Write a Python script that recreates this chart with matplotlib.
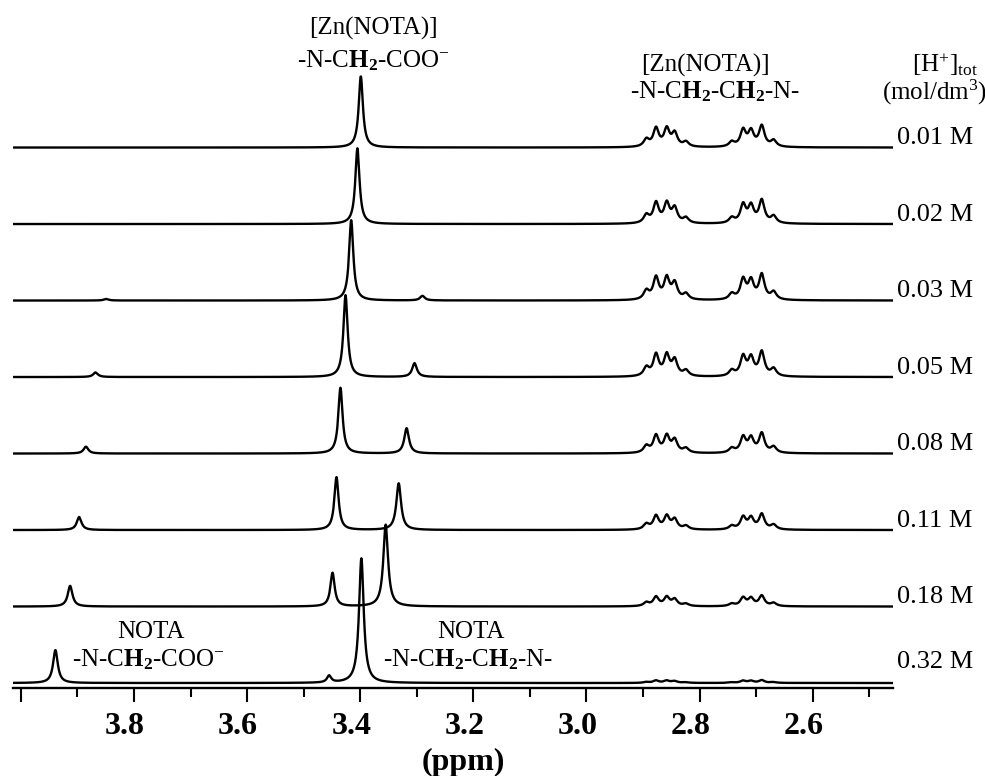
import numpy as np
import matplotlib
matplotlib.use("Agg")
import matplotlib.pyplot as plt
from matplotlib.transforms import ScaledTranslation

plt.rcParams['font.family'] = 'Liberation Serif'
plt.rcParams['mathtext.fontset'] = 'custom'
plt.rcParams['mathtext.rm'] = 'Liberation Serif'
plt.rcParams['mathtext.bf'] = 'Liberation Serif:bold'
plt.rcParams['mathtext.it'] = 'Liberation Serif:italic'

# total acid concentration of each spectrum, top to bottom
conc = ['0.01 M', '0.02 M', '0.03 M', '0.05 M', '0.08 M', '0.11 M', '0.18 M', '0.32 M']

# [Zn(NOTA)] -N-CH2-COO- singlet (ppm, height)
zn_pos = [3.399, 3.405, 3.416, 3.426, 3.435, 3.442, 3.449, 3.455]
zn_h = [0.93, 0.99, 1.05, 1.07, 0.86, 0.69, 0.44, 0.09]

# free NOTA -N-CH2-CH2-N- singlet
free_pos = [3.270, 3.280, 3.290, 3.304, 3.318, 3.332, 3.355, 3.398]
free_h = [0.0, 0.0, 0.06, 0.18, 0.33, 0.61, 1.07, 1.63]

# free NOTA -N-CH2-COO- singlet
ac_pos = [3.830, 3.840, 3.849, 3.868, 3.885, 3.897, 3.913, 3.939]
ac_h = [0.0, 0.0, 0.02, 0.06, 0.09, 0.17, 0.27, 0.43]

# [Zn(NOTA)] -N-CH2-CH2-N- multiplets: line positions and relative intensities
mult_pos = [2.894, 2.877, 2.858, 2.844, 2.824, 2.743, 2.723, 2.709, 2.690, 2.669]
mult_int = [0.30, 0.75, 0.72, 0.55, 0.20, 0.20, 0.68, 0.62, 0.85, 0.26]
mult_h = [0.30, 0.33, 0.36, 0.35, 0.28, 0.22, 0.15, 0.04]


def lorentz(x, x0, h, w):
    return h / (1 + ((x - x0) / w) ** 2)


ppm = np.linspace(2.458, 4.014, 4000)

# multiplet shape, normalised to 1
shape = np.zeros_like(ppm)
for p, a in zip(mult_pos, mult_int):
    shape += lorentz(ppm, p, a, 0.0058)
shape = shape / shape.max()

fig = plt.figure(figsize=(9.85, 7.76), dpi=100)
ax = fig.add_axes([13 / 985, 88 / 776, 880 / 985, 688 / 776])
step = 76.5
ax.set_xlim(4.014, 2.458)
ax.set_ylim(0, 688 / step)

n = len(conc)
for k in range(n):
    i = n - 1 - k  # 0 = bottom trace
    base = 0.065 + i
    y = np.full_like(ppm, base)
    y += lorentz(ppm, zn_pos[k], zn_h[k], 0.0045)
    y += lorentz(ppm, free_pos[k], free_h[k], 0.005)
    y += lorentz(ppm, ac_pos[k], ac_h[k], 0.005)
    y += mult_h[k] * shape
    ax.plot(ppm, y, color='black', lw=1.7)
    dy = 0.27 if i == 0 else 0.12
    ax.text(2.451, base + dy, conc[k], fontsize=19, va='center', ha='left', clip_on=False)

for s in ['top', 'right', 'left']:
    ax.spines[s].set_visible(False)
ax.spines['bottom'].set_linewidth(1.7)
ax.set_yticks([])

major = np.arange(4.0, 2.55, -0.2)
minor = np.arange(3.9, 2.45, -0.2)
ax.set_xticks(major)
ax.set_xticklabels(['' if abs(v - 4.0) < 1e-6 else '%.1f' % v for v in major],
                   fontsize=23, fontweight='bold')
ax.set_xticks(minor, minor=True)
ax.tick_params(axis='x', which='major', direction='out', length=10, width=1.5, pad=7)
ax.tick_params(axis='x', which='minor', direction='out', length=6.5, width=1.5)
shift = ScaledTranslation(-9 / 100, 0, fig.dpi_scale_trans)
for lab in ax.get_xticklabels():
    lab.set_transform(lab.get_transform() + shift)

fig.text(463 / 985, 1 - 762 / 776, '(ppm)', fontsize=23, fontweight='bold',
         ha='center', va='center')

fs = 18
ch2 = r'C$\mathbf{H_2}$'
fig.text(373 / 985, 1 - 28 / 776, '[Zn(NOTA)]', fontsize=fs, ha='center', va='center')
fig.text(373 / 985, 1 - 61 / 776, '-N-' + ch2 + '-COO$^{-}$', fontsize=fs, ha='center', va='center')
fig.text(705 / 985, 1 - 65 / 776, '[Zn(NOTA)]', fontsize=fs, ha='center', va='center')
fig.text(715 / 985, 1 - 92 / 776, '-N-' + ch2 + '-' + ch2 + '-N-', fontsize=fs, ha='center', va='center')
fig.text(945 / 985, 1 - 65 / 776, r'[H$^{+}$]$_{\rm tot}$', fontsize=fs, ha='center', va='center')
fig.text(934 / 985, 1 - 92 / 776, '(mol/dm$^{3}$)', fontsize=fs, ha='center', va='center')
fig.text(151 / 985, 1 - 632 / 776, 'NOTA', fontsize=fs, ha='center', va='center')
fig.text(148 / 985, 1 - 660 / 776, '-N-' + ch2 + '-COO$^{-}$', fontsize=fs, ha='center', va='center')
fig.text(471 / 985, 1 - 632 / 776, 'NOTA', fontsize=fs, ha='center', va='center')
fig.text(468 / 985, 1 - 660 / 776, '-N-' + ch2 + '-' + ch2 + '-N-', fontsize=fs, ha='center', va='center')

fig.savefig('out.png', dpi=100)
